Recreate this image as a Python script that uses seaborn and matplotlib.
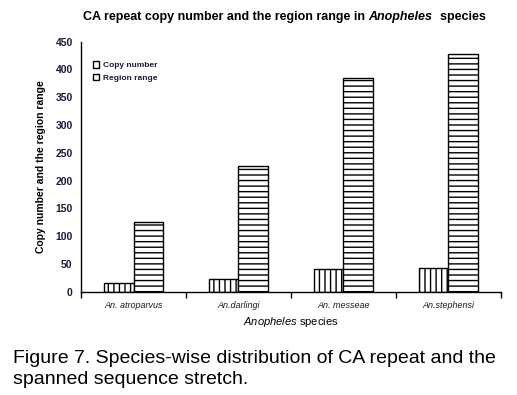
import matplotlib
matplotlib.use("Agg")
import matplotlib.pyplot as plt
import seaborn as sns
import pandas as pd
from matplotlib.patches import Patch

species = ["An. atroparvus", "An.darlingi", "An. messeae", "An.stephensi"]
copy_number = [15, 22, 40, 42]
region_range = [126, 227, 385, 428]
series_names = ["Copy number", "Region range"]
yticks = [0, 50, 100, 150, 200, 250, 300, 350, 400, 450]

df = pd.DataFrame({
    "species": species * 2,
    "value": copy_number + region_range,
    "series": [series_names[0]] * 4 + [series_names[1]] * 4,
})

sns.set_style("white")
plt.rcParams["font.family"] = ["Liberation Sans", "DejaVu Sans"]
plt.rcParams["hatch.linewidth"] = 1.0
plt.rcParams["hatch.color"] = "#222222"
plt.rcParams["mathtext.fontset"] = "custom"
plt.rcParams["mathtext.it"] = "Liberation Sans:italic"
plt.rcParams["text.color"] = "black"
plt.rcParams["axes.labelcolor"] = "black"
plt.rcParams["xtick.color"] = "black"
plt.rcParams["ytick.color"] = "black"

fig = plt.figure(figsize=(5.17, 3.95), dpi=100)
ax = fig.add_axes([0.1567, 0.2615, 0.8123, 0.6329])

sns.barplot(data=df, x="species", y="value", hue="series", order=species,
            hue_order=series_names, palette=["white", "white"],
            edgecolor="black", linewidth=1.0, width=0.571, gap=0,
            legend=False, ax=ax)

hatches = ["|||", "---"]
for cont, h in zip(ax.containers, hatches):
    for bar in cont:
        bar.set_hatch(h)
        bar.set_edgecolor("black")

ax.set_ylim(0, 450)
ax.set_xlim(-0.5, 3.5)
ax.set_yticks(yticks)
ax.set_yticklabels([str(v) for v in yticks], fontsize=7.5, fontweight="bold", color="#1a1a3a")
ax.set_xticks(range(4))
ax.set_xticklabels(species, fontsize=6.5, style="italic", color="#1a1a2a")
ax.set_xticks([-0.5, 0.5, 1.5, 2.5, 3.5], minor=True)
ax.tick_params(axis="x", which="major", length=0, pad=7)
ax.tick_params(axis="x", which="minor", length=4, width=1, direction="out", color="black", bottom=True)
ax.tick_params(axis="y", which="major", length=4, width=1, direction="out", color="black", pad=2)

for s in ["top", "right"]:
    ax.spines[s].set_visible(False)
for s in ["left", "bottom"]:
    ax.spines[s].set_color("black")
    ax.spines[s].set_linewidth(1.0)

ax.set_ylabel("Copy number and the region range", fontsize=7.5, fontweight="bold", labelpad=7)
ax.set_xlabel(r"$\it{Anopheles}$ species", fontsize=8, labelpad=3)

handles = [Patch(facecolor="white", edgecolor="black", label=n) for n in series_names]
leg = ax.legend(handles=handles, loc="upper left", bbox_to_anchor=(0.02, 0.935),
                frameon=False, fontsize=6, handlelength=0.8, handleheight=0.8,
                handletextpad=0.4, labelspacing=0.5, borderaxespad=0)
for t in leg.get_texts():
    t.set_fontweight("bold")
    t.set_color("#1a1a3a")

# Title in pieces: bold, bold-italic, bold
parts = [("CA repeat copy number and the region range in ", "normal"),
         ("Anopheles", "italic"),
         ("  species", "normal")]
fig.canvas.draw()
renderer = fig.canvas.get_renderer()
texts = []
widths = []
for s, st in parts:
    t = fig.text(0, 0.957, s, fontsize=9, fontweight="bold", style=st, ha="left", va="center")
    bb = t.get_window_extent(renderer=renderer)
    texts.append(t)
    widths.append(bb.width)
total = sum(widths)
figw = fig.get_figwidth() * fig.dpi
x = 0.55 * figw - total / 2
for t, w in zip(texts, widths):
    t.set_x(x / figw)
    x += w

fig.text(0.025, 0.066, "Figure 7. Species-wise distribution of CA repeat and the\nspanned sequence stretch.",
         ha="left", va="center", fontsize=14, linespacing=1.25)

fig.savefig("out.png", dpi=100)
